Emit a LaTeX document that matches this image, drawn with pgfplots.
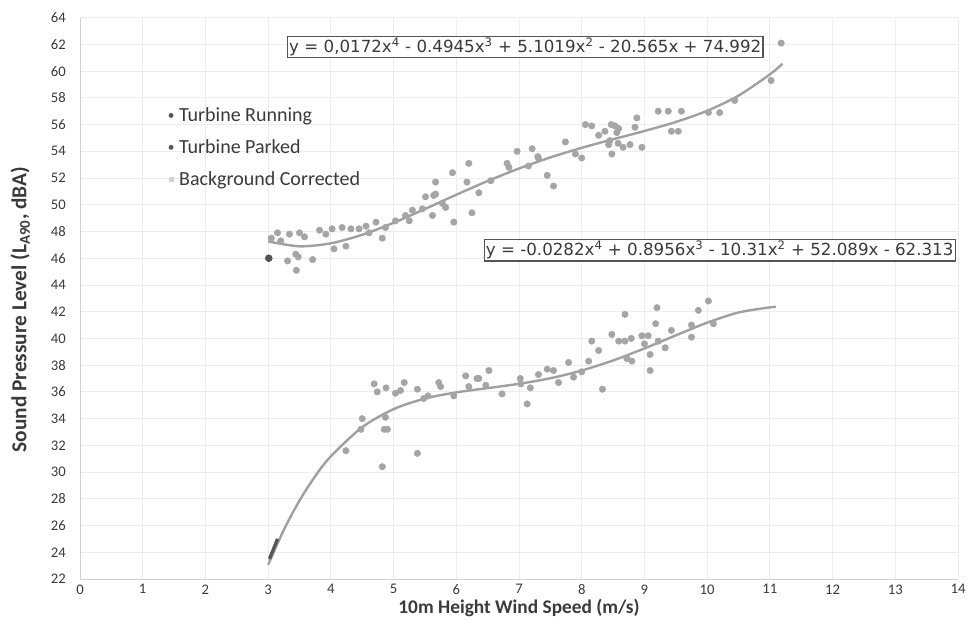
\documentclass[border=0pt]{standalone}
\usepackage{pgfplots}
\pgfplotsset{compat=1.18}
\usepackage{fontspec}
\setmainfont{Carlito}
\newfontfamily\eqfont{DejaVu Sans}

\definecolor{pt}{HTML}{A5A5A5}
\definecolor{fit}{HTML}{A0A0A0}
\definecolor{dark}{HTML}{555555}
\definecolor{txt}{HTML}{3A3A3A}

% upper cloud (turbine running)
\pgfplotstableread{
x y
3.05 47.5
3.15 47.9
3.20 47.3
3.34 47.8
3.50 47.9
3.58 47.6
3.44 46.3
3.31 45.8
3.45 45.1
3.48 46.1
3.71 45.9
3.82 48.1
3.92 47.8
4.02 48.2
4.05 46.7
4.24 46.9
4.18 48.3
4.32 48.2
4.45 48.2
4.56 48.4
4.61 47.9
4.72 48.7
4.82 47.5
4.87 48.3
5.03 48.8
5.19 49.2
5.30 49.6
5.25 48.8
5.46 49.7
5.51 50.6
5.62 49.2
5.67 50.8
5.78 50.1
5.67 51.7
5.64 50.7
5.83 49.8
5.96 48.7
5.94 52.4
6.20 53.1
6.17 51.7
6.25 49.4
6.36 50.9
6.55 51.8
6.81 53.1
6.84 52.8
6.97 54.0
7.21 54.2
7.15 52.9
7.31 53.5
7.45 52.2
7.55 51.4
7.30 53.6
7.74 54.7
7.90 53.8
8.00 53.5
8.06 56.0
8.16 55.9
8.27 55.2
8.45 54.8
8.48 53.8
8.53 55.9
8.56 55.4
8.58 54.6
8.37 55.5
8.47 56.0
8.59 55.7
8.43 54.5
8.66 54.3
8.77 54.5
8.88 56.5
8.85 55.8
8.96 54.3
9.22 57.0
9.38 57.0
9.59 57.0
9.43 55.5
9.54 55.5
10.02 56.9
10.20 56.9
10.44 57.8
11.02 59.3
11.18 62.1
}\running

% lower cloud (background corrected)
\pgfplotstableread{
x y
4.24 31.6
4.48 33.2
4.50 34.0
4.82 30.4
4.85 33.2
4.90 33.2
4.87 34.1
5.38 31.4
4.69 36.6
4.74 36.0
4.88 36.3
5.03 35.9
5.11 36.1
5.17 36.7
5.38 36.2
5.48 35.5
5.55 35.7
5.72 36.7
5.75 36.4
5.96 35.7
6.15 37.2
6.33 37.0
6.52 37.6
6.47 36.5
6.20 36.4
6.36 37.0
6.73 35.85
7.02 37.0
7.03 36.6
7.18 36.3
7.13 35.1
7.31 37.3
7.45 37.7
7.55 37.6
7.63 36.7
7.79 38.2
7.87 37.1
8.00 37.5
8.11 38.3
8.16 39.8
8.27 39.1
8.33 36.2
8.48 40.3
8.59 39.8
8.69 39.8
8.79 40.0
8.69 41.8
8.72 38.5
8.80 38.3
8.96 40.2
9.06 40.2
9.00 39.6
9.09 38.8
9.09 37.6
9.20 42.3
9.18 41.1
9.22 39.8
9.33 39.3
9.43 40.6
9.75 41.0
9.75 40.1
9.86 42.1
10.02 42.8
10.10 41.1
}\corrected

\begin{document}
\begin{tikzpicture}
% page = axis box plus the margins of the reference
\useasboundingbox (-60pt,-36.4pt) rectangle (665.25pt,434.25pt);
\begin{axis}[
    at={(0,0)}, anchor=south west,
    scale only axis,
    width=658.5pt, height=421pt,
    xmin=0, xmax=14, ymin=22, ymax=64,
    xtick={0,1,...,14}, ytick={22,24,...,64},
    grid=major,
    major grid style={gray!14, line width=0.6pt},
    axis line style={gray!35},
    axis x line=bottom, axis y line=left,
    x axis line style={-}, y axis line style={-},
    tick style={draw=none},
    ticklabel style={font=\fontsize{11}{13}\selectfont, text=txt},
    /pgf/number format/assume math mode=true,
    yticklabel style={xshift=-5pt},
    xticklabel style={yshift=1.5pt},
    xlabel={\textbf{10m Height Wind Speed (m/s)}},
    ylabel={\textbf{Sound Pressure Level (L\textsubscript{A90}, dBA)}},
    xlabel style={font=\fontsize{14.5}{16}\selectfont, text=txt,
        at={(axis description cs:0.5,-0.052)}, anchor=center},
    ylabel style={font=\fontsize{16}{18}\selectfont, text=txt,
        at={(axis description cs:-0.068,0.48)}, anchor=center},
    legend style={at={(axis cs:1.35,57.7)}, anchor=north west, draw=none, fill=none,
        font=\fontsize{15}{17}\selectfont, text=txt, row sep=8pt,
        nodes={inner xsep=4.5pt}, legend cell align=left},
]
\addlegendimage{only marks, mark=*, mark size=1.6pt, color=dark}
\addlegendentry{Turbine Running}
\addlegendimage{only marks, mark=*, mark size=1.6pt, color=dark}
\addlegendentry{Turbine Parked}
\addlegendimage{only marks, mark=square*, mark size=1.5pt, color=gray!35}
\addlegendentry{Background Corrected}

\addplot[only marks, mark=*, mark size=2.4pt, color=pt, forget plot] table {\running};
\addplot[only marks, mark=*, mark size=2.4pt, color=pt, forget plot] table {\corrected};

% polynomial trend lines
\addplot[fit, line width=1.8pt, smooth, forget plot] coordinates {
(3,47.256) (3.5,46.892) (4,47.118) (4.5,47.755) (5,48.652) (5.5,49.684)
(6,50.750) (6.5,51.776) (7,52.714) (7.5,53.541) (8,54.261) (8.5,54.902)
(9,55.520) (9.5,56.194) (10,57.032) (10.5,58.166) (11,59.753) (11.2,60.554)};
\addplot[fit, line width=1.8pt, smooth, forget plot] coordinates {
(3,23.061) (3.25,25.675) (3.5,27.868) (3.75,29.689) (4,31.182) (4.5,33.358)
(5,34.707) (5.5,35.500) (6,35.963) (6.5,36.283) (7,36.603) (7.5,37.022)
(8,37.599) (8.5,38.351) (9,39.250) (9.5,40.229) (10,41.177) (10.5,41.940)
(11,42.323) (11.1,42.35)};

% parked points near 3 m/s
\addplot[dark, line width=2.4pt, forget plot] coordinates {(3.02,23.5) (3.15,25.0)};
\addplot[only marks, mark=*, mark size=2.6pt, color=dark, forget plot] coordinates {(3.01,46.0)};

\node[draw=dark, fill=white, line width=0.9pt, inner sep=1.3pt,
      font=\eqfont\fontsize{12.5}{14}\selectfont, text=txt] at (axis cs:7.1,61.8)
  {y = 0,0172x\textsuperscript{4} - 0.4945x\textsuperscript{3} + 5.1019x\textsuperscript{2} - 20.565x + 74.992};
\node[draw=dark, fill=white, line width=0.9pt, inner sep=1.3pt,
      font=\eqfont\fontsize{12.5}{14}\selectfont, text=txt] at (axis cs:10.2,46.6)
  {y = -0.0282x\textsuperscript{4} + 0.8956x\textsuperscript{3} - 10.31x\textsuperscript{2} + 52.089x - 62.313};
\end{axis}
\end{tikzpicture}
\end{document}
